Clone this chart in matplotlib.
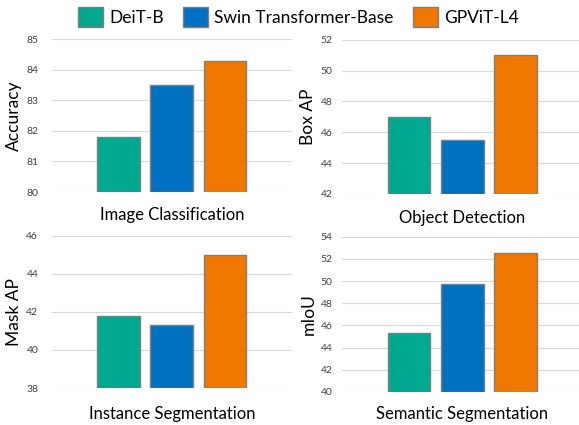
import matplotlib as mpl
mpl.use("Agg")
import matplotlib.pyplot as plt
from matplotlib.patches import Patch

plt.rcParams['font.family'] = ['Lato', 'DejaVu Sans']

models = ["DeiT-B", "Swin Transformer-Base", "GPViT-L4"]
colors = ["#00A98F", "#0070C0", "#F07800"]

tasks = ["Image Classification", "Object Detection",
         "Instance Segmentation", "Semantic Segmentation"]
metrics = ["Accuracy", "Box AP", "Mask AP", "mIoU"]

cls_acc = [81.8, 83.5, 84.3]
det_ap = [47.0, 45.5, 51.0]
ins_ap = [41.8, 41.3, 45.0]
sem_miou = [45.3, 49.7, 52.5]

values = [cls_acc, det_ap, ins_ap, sem_miou]
ylims = [(80, 85, 1), (42, 52, 2), (38, 46, 2), (40, 54, 2)]

# axes rectangles (left, bottom, width, height) in figure fraction
rects = [
    [0.090, 0.548, 0.414, 0.360],
    [0.591, 0.544, 0.414, 0.362],
    [0.090, 0.087, 0.414, 0.358],
    [0.591, 0.078, 0.414, 0.365],
]
xlabel_pads = [11, 12, 13, 10]
tick_pads = [10, 7, 10, 7]

fig = plt.figure(figsize=(5.79, 4.25), dpi=100)

for i in range(4):
    ax = fig.add_axes(rects[i])
    lo, hi, step = ylims[i]
    ax.bar(range(3), [v - lo for v in values[i]], bottom=lo, width=0.81,
           color=colors, edgecolor="#7F7F7F", linewidth=1.0, zorder=3)
    ax.set_ylim(lo, hi)
    ax.set_xlim(-1.26, 3.26)
    ax.set_yticks(range(lo, hi + 1, step))
    ax.yaxis.grid(True, color="#D9D9D9", linewidth=0.8, zorder=0)
    ax.set_xticks([])
    for s in ax.spines.values():
        s.set_visible(False)
    ax.tick_params(axis="y", length=0, labelsize=7.5, labelcolor="#404040",
                   pad=tick_pads[i])
    ax.set_ylabel(metrics[i], fontsize=12.5, labelpad=3)
    ax.set_xlabel(tasks[i], fontsize=12, labelpad=xlabel_pads[i])

handles = [Patch(facecolor=c, edgecolor="#7F7F7F", linewidth=1.0) for c in colors]
fig.legend(handles, models, loc="center", bbox_to_anchor=(0.515, 0.96), ncol=3,
           frameon=False, fontsize=12.5, handlelength=1.45, handleheight=1.45,
           columnspacing=1.1, handletextpad=0.35)

fig.savefig("out.png", dpi=100)
